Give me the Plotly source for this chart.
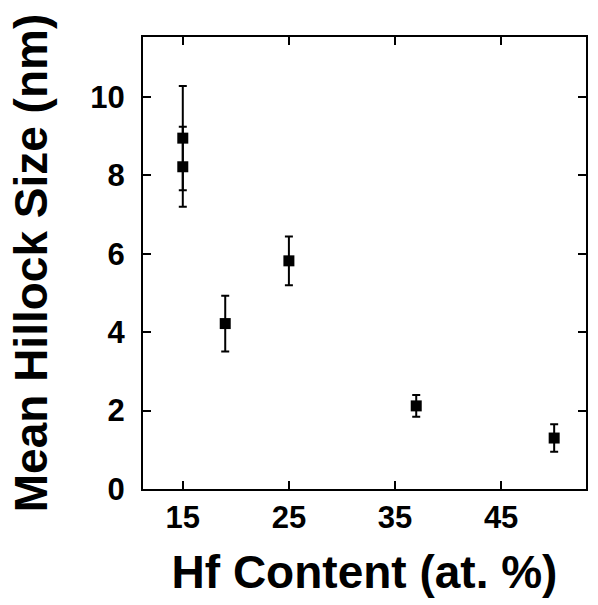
import plotly.graph_objects as go

hf_content = [15, 15, 19, 25, 37, 50]
hillock_size = [8.95, 8.22, 4.22, 5.82, 2.12, 1.30]
size_error = [1.33, 1.02, 0.71, 0.62, 0.28, 0.35]

x_ticks = [15, 25, 35, 45]
y_ticks = [0, 2, 4, 6, 8, 10]

FONT = "Liberation Sans, Arial, sans-serif"

fig = go.Figure()
fig.add_trace(go.Scatter(
    x=hf_content, y=hillock_size, mode="markers",
    marker=dict(symbol="square", size=11, color="black"),
    error_y=dict(type="data", array=size_error, visible=True,
                 color="black", thickness=2, width=4),
    showlegend=False,
))

axis_common = dict(
    showline=True, linecolor="black", linewidth=2, mirror="ticks",
    ticks="inside", ticklen=8, tickwidth=2, tickcolor="black",
    showgrid=False, zeroline=False, automargin=False,
    tickfont=dict(family=FONT, size=31, color="black", weight="bold"),
)

fig.update_xaxes(
    range=[11.25, 53.0], tickvals=x_ticks,
    title=dict(text="Hf Content (at. %)", standoff=22,
               font=dict(family=FONT, size=46, color="black", weight="bold")),
    **axis_common,
)
fig.update_yaxes(
    range=[0, 11.53], tickvals=y_ticks, ticklabelstandoff=10,
    title=dict(text="Mean Hillock Size (nm)", standoff=28,
               font=dict(family=FONT, size=46, color="black", weight="bold")),
    **axis_common,
)

fig.update_layout(
    width=598, height=605,
    margin=dict(l=143, r=12, t=37, b=116),
    plot_bgcolor="white", paper_bgcolor="white",
)

fig.write_html(
    "out.html",
    config={"displayModeBar": False},
    post_script="document.body.style.margin='0';document.body.style.overflow='hidden';",
)
